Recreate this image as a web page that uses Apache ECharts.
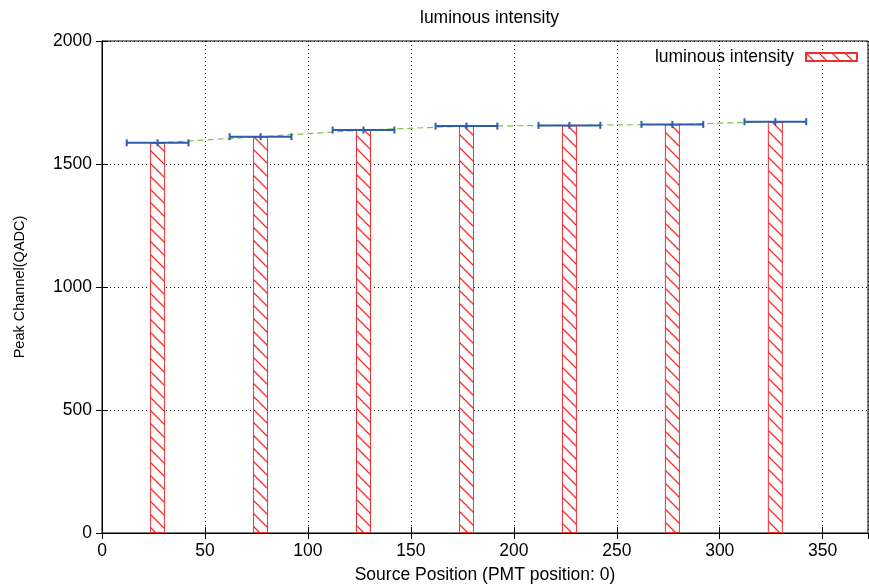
<!DOCTYPE html>
<html>
<head>
<meta charset="utf-8">
<script src="https://cdn.jsdelivr.net/npm/echarts@6/dist/echarts.min.js"></script>
<style>
html,body{margin:0;padding:0;background:#fff;}
#chart{width:869px;height:585px;}
</style>
</head>
<body>
<div id="chart"></div>
<script>
// ---- data ----
const chartTitle = 'luminous intensity';
const seriesName = 'luminous intensity';
const positions = [27, 77, 127, 177, 227, 277, 327];
const peakChannel = [1586, 1611, 1638, 1654, 1657, 1661, 1672];
const positionError = [15, 15, 15, 15, 15, 15, 15];
const xAxisName = 'Source Position (PMT position: 0)';
const yAxisName = 'Peak Channel(QADC)';

// ---- styles ----
const FONT = '"Liberation Sans", Arial, sans-serif';
const RED = '#f03030';
const BLUE = '#2d5dab';
const GREEN = '#7fc24a';

function hatchPattern() {
  const s = 13;
  const c = document.createElement('canvas');
  c.width = s; c.height = s;
  const g = c.getContext('2d');
  g.fillStyle = '#fff';
  g.fillRect(0, 0, s, s);
  g.strokeStyle = '#ff2a2a';
  g.lineWidth = 1.3;
  g.beginPath();
  g.moveTo(-1, -1); g.lineTo(s + 1, s + 1);
  g.moveTo(-s - 1, -1); g.lineTo(1, s + 1);
  g.moveTo(s - 1, -1); g.lineTo(2 * s + 1, s + 1);
  g.stroke();
  return c;
}

const barData = positions.map((x, i) => [x, peakChannel[i]]);
const errData = positions.map((x, i) => [x, peakChannel[i], positionError[i]]);

const chart = echarts.init(document.getElementById('chart'), null, {renderer: 'canvas'});

const commonX = {
  type: 'value', min: 0, max: 372, interval: 50,
};
const commonY = {
  type: 'value', min: 0, max: 2000, interval: 500,
};
const plain = v => String(v);

chart.setOption({
  animation: false,
  backgroundColor: '#fff',
  title: {
    text: chartTitle,
    left: 420, top: 9, padding: 0,
    textStyle: {fontFamily: FONT, fontSize: 17.5, fontWeight: 'normal', color: '#000'}
  },
  legend: {
    data: [{name: seriesName, icon: 'rect'}],
    right: 11, top: 48, padding: 0,
    align: 'right',
    itemWidth: 51, itemHeight: 8,
    textStyle: {fontFamily: FONT, fontSize: 17.5, color: '#000', padding: [0, 7, 0, 0]}
  },
  grid: {left: 102, right: 1, top: 41, bottom: 52, show: true, borderColor: '#000', borderWidth: 1,
         containLabel: false, outerBoundsMode: 'none'},
  xAxis: [
    Object.assign({}, commonX, {
      position: 'bottom',
      name: xAxisName, nameLocation: 'middle', nameGap: 33,
      nameTextStyle: {fontFamily: FONT, fontSize: 17.5, color: '#000'},
      axisLine: {show: true, lineStyle: {color: '#000', width: 1}},
      axisTick: {show: true, inside: true, length: 6, lineStyle: {color: '#000'}},
      axisLabel: {fontFamily: FONT, fontSize: 17.5, color: '#000', margin: 9, showMaxLabel: false, formatter: plain},
      splitLine: {show: true, lineStyle: {color: '#000', type: [1, 3], width: 1}}
    }),
    Object.assign({}, commonX, {
      position: 'top',
      axisLine: {show: true, lineStyle: {color: '#000', width: 1}},
      axisTick: {show: true, inside: true, length: 6, lineStyle: {color: '#000'}},
      axisLabel: {show: false},
      splitLine: {show: false}
    })
  ],
  yAxis: [
    Object.assign({}, commonY, {
      position: 'left',
      name: yAxisName, nameLocation: 'middle', nameGap: 75,
      nameTextStyle: {fontFamily: FONT, fontSize: 14.5, color: '#000'},
      axisLine: {show: true, lineStyle: {color: '#000', width: 1}},
      axisTick: {show: true, inside: true, length: 6, lineStyle: {color: '#000'}},
      axisLabel: {fontFamily: FONT, fontSize: 17.5, color: '#000', margin: 10, formatter: plain},
      splitLine: {show: true, lineStyle: {color: '#000', type: [1, 3], width: 1}}
    }),
    Object.assign({}, commonY, {
      position: 'right',
      axisLine: {show: true, lineStyle: {color: '#000', width: 1}},
      axisTick: {show: true, inside: true, length: 6, lineStyle: {color: '#000'}},
      axisLabel: {show: false},
      splitLine: {show: false}
    })
  ],
  series: [
    {
      name: seriesName,
      type: 'bar',
      xAxisIndex: 0, yAxisIndex: 0,
      data: barData,
      barWidth: 15,
      itemStyle: {
        color: {image: hatchPattern(), repeat: 'repeat'},
        borderColor: RED, borderWidth: 1
      },
      emphasis: {disabled: true},
      z: 2
    },
    {
      name: 'trend',
      type: 'line',
      xAxisIndex: 0, yAxisIndex: 0,
      data: barData,
      symbol: 'none',
      lineStyle: {color: GREEN, width: 1.2, type: [6, 4]},
      silent: true,
      z: 3
    },
    {
      name: 'error',
      type: 'custom',
      xAxisIndex: 0, yAxisIndex: 0,
      data: errData,
      silent: true,
      z: 4,
      renderItem: function (params, api) {
        const x = api.value(0), y = api.value(1), e = api.value(2);
        const pL = api.coord([x - e, y]);
        const pC = api.coord([x, y]);
        const pR = api.coord([x + e, y]);
        const h = 3.5;
        const style = {stroke: BLUE, lineWidth: 2};
        const mk = (x1, y1, x2, y2) => ({type: 'line', shape: {x1, y1, x2, y2}, style});
        return {
          type: 'group',
          children: [
            mk(pL[0], pL[1], pR[0], pR[1]),
            mk(pL[0], pL[1] - h, pL[0], pL[1] + h),
            mk(pC[0], pC[1] - h, pC[0], pC[1] + h),
            mk(pR[0], pR[1] - h, pR[0], pR[1] + h)
          ]
        };
      }
    }
  ]
});
</script>
</body>
</html>
